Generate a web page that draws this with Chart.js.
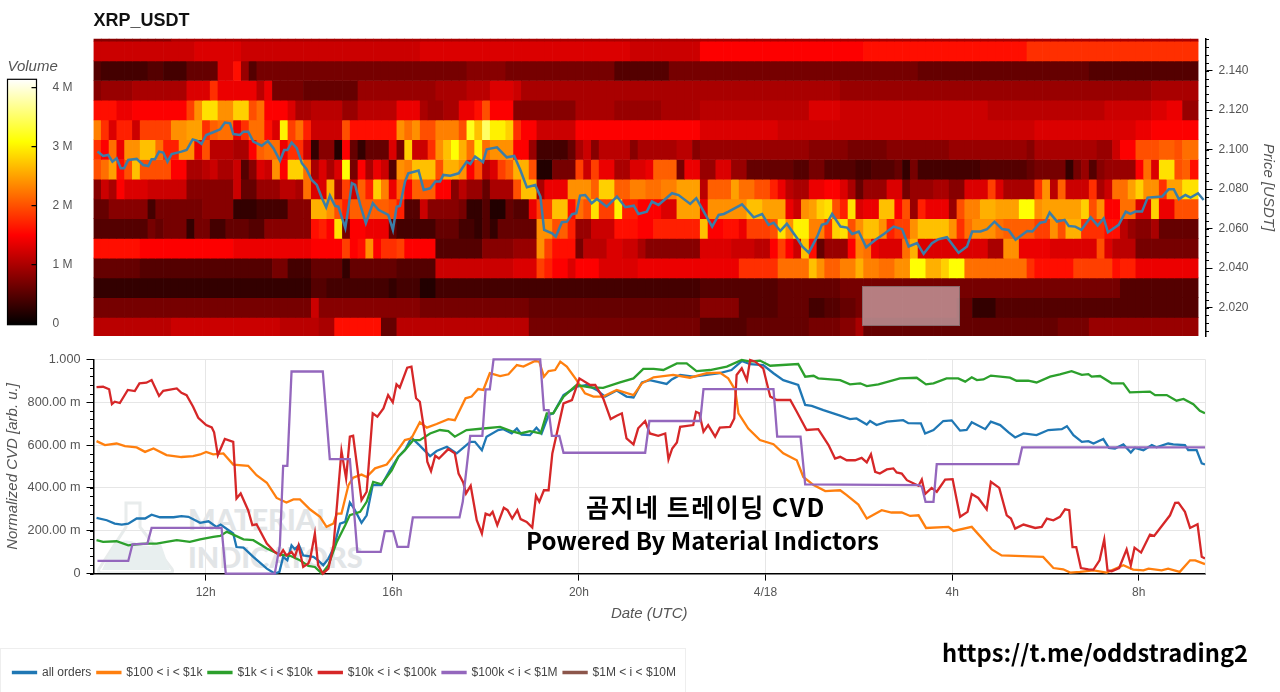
<!DOCTYPE html>
<html>
<head>
<meta charset="utf-8">
<title>XRP_USDT CVD</title>
<script src="https://cdn.jsdelivr.net/npm/chart.js@4/dist/chart.umd.js"></script>
<style>
  html, body { margin:0; padding:0; background:#fff; width:1280px; height:692px; overflow:hidden; }
  canvas { position:absolute; filter:blur(.4px); }
  .abs { position:absolute; white-space:nowrap; }
  #legendBox { left:0; top:648px; width:686px; height:44px; border:1px solid #eee; border-bottom:0; box-sizing:border-box; }
  #mark { left:188px; top:500px; color:#e2e5e7; font:900 29px/38px Lato, sans-serif; }
  #redact { left:862px; top:286px; width:98px; height:40px; box-sizing:border-box; background:rgba(225,210,215,.6); border:1px solid rgba(120,100,100,.7); }
  .note { font-family:"Noto Sans CJK KR", sans-serif; color:#000; font-weight:700; text-shadow:0 0 3px #fff, 0 0 3px #fff; }
</style>
</head>
<body>
<div id="legendBox" class="abs"></div>
<svg class="abs" style="left:96px;top:500px" width="82" height="75" viewBox="0 0 82 75">
  <path d="M30 3h14v24l32 42q2 4-3 4H6q-5 0-3-4l27-42z" fill="none" stroke="#e8ecec" stroke-width="3"/>
  <path d="M17 45q12-8 24-2t24 1l9 26H6z" fill="#e8efef"/>
</svg>
<div id="mark" class="abs">MATERIAL<br>INDICATORS</div>
<canvas id="heat" width="1280" height="345" style="left:0;top:0;width:1280px;height:345px"></canvas>
<canvas id="bar" width="90" height="279" style="left:0;top:58px;width:90px;height:279px"></canvas>
<canvas id="cvd" width="1280" height="347" style="left:0;top:345px;width:1280px;height:347px"></canvas>
<div id="redact" class="abs"></div>
<div class="abs note" style="left:586px;top:489px;font-size:25px;line-height:34px;letter-spacing:1.5px">곰지네 트레이딩 CVD</div>
<div class="abs note" style="left:526px;top:523px;font-size:24px;line-height:34px">Powered By Material Indictors</div>
<div class="abs note" style="left:942px;top:633px;font-size:23.7px;line-height:38px">https://t.me/oddstrading2</div>
<script>
// hours are counted from 4/17 00:00 UTC, so 24 is the 4/18 tick
const X_MIN = 9.595, X_MAX = 33.42;
const timeHours = [12, 16, 20, 24, 28, 32];
const timeLabels = ['12h', '16h', '20h', '4/18', '4h', '8h'];
const cvdTicks = [0, .2, .4, .6, .8, 1];
const cvdLabels = ['0', '200.00 m', '400.00 m', '600.00 m', '800.00 m', '1.000'];
const priceTicks = [2.02, 2.04, 2.06, 2.08, 2.10, 2.12, 2.14];
const volumeTicks = [0, 1, 2, 3, 4];
const volumeLabels = ['0', '1 M', '2 M', '3 M', '4 M'];
const hotStops = [[0, '#000'], [.365, '#f00'], [.746, '#ff0'], [1, '#fff']];
const VOL_MAX = 4.14;

// price bins of the heatmap, top to bottom
const priceBins = [2.16, 2.15, 2.14, 2.13, 2.12, 2.11, 2.10, 2.09, 2.08, 2.07, 2.06, 2.05, 2.04, 2.03, 2.02, 2.01];
const CELL_HOURS = 1 / 6;
// volume per bin in 0.1 M, written as value,count runs over the 142 ten minute columns
const vol216 = [8,10, 10,132];
const vol215 = [12,13, 13,6, 12,23, 13,27, 12,9, 15,18, 15,3, 16,21, 18,22];
const vol214 = [5,1, 4,6, 5,2, 4,3, 6,4, 13,2, 16,1, 9,1, 5,1, 7,21, 7,6, 8,5, 7,14, 5,7, 7,22, 7,10, 6,22, 5,14];
const vol213 = [8,1, 9,4, 10,7, 13,3, 18,1, 14,5, 11,1, 14,1, 7,4, 6,7, 9,8, 9,2, 10,4, 11,3, 13,3, 12,1, 10,41, 9,40, 10,6];
const vol212 = [16,3, 14,2, 15,7, 19,1, 24,1, 29,2, 24,2, 28,2, 20,1, 22,1, 15,3, 13,1, 10,2, 11,4, 9,2, 11,5, 14,3,
  10,1, 9,2, 10,2, 14,2, 16,1, 20,1, 15,3, 8,8, 10,5, 9,6, 10,5, 11,14, 13,4, 12,19, 11,15, 12,6, 13,2, 14,2, 9,2];
const vol211 = [23,1, 18,1, 13,1, 17,2, 12,1, 19,4, 24,2, 25,2, 18,1, 21,1, 22,2, 14,1, 18,1, 22,2, 16,1, 13,1, 30,1, 19,1, 22,1, 17,1, 12,4, 20,1, 16,6, 24,1, 22,1, 24,1,
  20,2, 23,3, 20,1, 32,1, 27,1, 35,1, 30,2, 28,1, 18,1, 15,2, 12,5, 15,16, 13,10, 12,8, 12,25, 13,13, 14,2, 15,6];
const vol210 = [18,1, 15,1, 22,1, 14,1, 24,2, 27,2, 22,1, 17,2, 24,2, 14,1, 20,1, 11,3, 10,2, 15,1, 21,1, 22,2, 14,1, 18,2, 12,1, 3,1, 8,2, 2,1, 15,1, 6,1, 3,1, 6,3, 13,1, 7,1, 28,1, 12,1,
  12,1, 18,1, 24,1, 27,1, 31,1, 26,1, 22,1, 30,1, 22,1, 24,3, 15,2, 9,1, 4,4, 6,1, 10,1, 12,1, 8,1, 11,4, 8,1, 10,5, 11,2, 8,1, 9,14, 8,4,
  8,1, 7,5, 8,8, 9,10, 8,1, 10,8, 9,2, 12,1, 15,2, 20,3, 21,2, 20,1, 22,2];
const vol209 = [20,1, 22,1, 25,1, 16,1, 20,1, 27,1, 20,4, 15,2, 10,2, 11,1, 12,1, 10,2, 12,1, 5,1, 8,1, 13,1, 12,1, 24,1, 15,1, 28,2, 22,1, 10,1, 13,1, 10,1, 13,1, 31,1, 7,1, 15,1, 10,1, 14,1, 12,1, 5,1, 24,1, 23,1, 27,1,
  27,2, 20,1, 26,2, 24,1, 15,1, 20,1, 11,1, 13,1, 19,1, 21,1, 26,2, 20,1, 2,2, 7,3, 19,1, 12,1, 19,1, 14,2, 10,2, 13,2, 14,1, 21,3, 7,1, 14,2, 9,2, 13,2, 9,2, 6,6, 5,2, 7,2, 5,2,
  5,2, 4,2, 5,3, 6,1, 3,1, 7,1, 4,8, 5,6, 6,1, 7,4, 3,1, 7,1, 9,1, 5,1, 8,1, 9,4, 15,1, 22,1, 13,1, 29,2, 20,1, 21,1, 16,1];
const vol208 = [8,1, 12,1, 10,1, 15,1, 13,3, 12,5, 8,6, 12,1, 6,2, 9,3, 11,2, 10,1, 22,1, 13,2, 26,1, 10,1, 19,1, 12,1, 21,1, 17,1, 28,1, 23,1, 14,1, 21,1, 15,1, 21,1,
  21,2, 15,2, 8,1, 11,1, 9,2, 6,1, 10,3, 20,1, 27,2, 10,1, 14,3, 24,3, 21,1, 28,2, 21,2, 23,2, 22,2, 23,2, 25,3, 11,1, 21,3, 25,1, 22,2, 20,2, 17,1, 14,1, 11,1, 10,2, 14,2, 15,2,
  13,1, 10,1, 6,1, 9,3, 13,2, 7,1, 9,3, 10,2, 8,2, 13,3, 19,1, 13,1, 10,4, 18,1, 24,1, 11,1, 21,1, 12,3, 18,1, 10,1, 12,1, 22,2, 25,1, 28,1, 24,2, 18,1, 25,2, 29,2];
const vol207 = [6,2, 8,5, 4,1, 7,6, 8,4, 3,3, 4,4, 8,3, 26,2, 24,1, 20,1, 17,1, 21,5, 20,1, 17,1, 5,2,
  12,1, 8,4, 7,1, 3,2, 5,1, 2,2, 6,1, 5,2, 14,1, 19,2, 27,2, 16,1, 22,1, 20,1, 29,1, 19,2, 30,1, 17,2, 15,3, 13,2, 25,3, 14,1, 24,5, 27,2, 25,3, 14,1, 12,1, 24,1, 25,1, 28,1, 29,1, 20,1,
  17,1, 29,1, 13,1, 14,2, 27,2, 15,1, 20,1, 9,1, 17,1, 14,3, 9,1, 20,1, 23,2, 26,2, 25,3, 31,2, 24,1, 25,5, 28,1, 20,1, 24,1, 15,2, 22,2, 13,2, 28,1, 14,2, 20,3];
const vol206 = [5,7, 7,1, 6,1, 7,3, 3,1, 7,2, 4,2, 6,3, 5,2, 8,6, 16,1, 17,1, 15,1, 29,1, 7,1, 15,2, 14,3, 6,1, 4,3,
  4,2, 6,3, 4,2, 3,1, 5,1, 3,1, 6,5, 24,2, 20,1, 21,1, 17,1, 9,2, 12,3, 16,3, 15,2, 17,6, 27,1, 15,2, 16,2, 14,1, 19,3, 20,1, 29,1, 24,1, 30,2, 23,2, 18,1, 28,1,
  29,1, 20,1, 24,1, 27,2, 24,1, 17,1, 19,2, 24,1, 27,4, 24,1, 18,1, 22,1, 24,3, 22,1, 21,4, 19,2, 24,1, 20,1, 26,2, 18,3, 16,2, 11,1, 9,1, 8,2, 10,1, 6,5];
const vol205 = [16,6, 15,12, 14,7, 14,3, 15,1, 15,3, 19,1, 15,1, 16,1, 24,1, 15,1, 18,2, 19,1, 15,2,
  15,2, 5,6, 8,4, 9,3, 24,1, 19,1, 16,3, 7,1, 11,3, 13,2, 12,2, 10,1, 8,7, 13,4, 12,3, 11,2, 15,1, 19,1, 15,1, 12,1, 27,1, 16,1, 6,1, 9,2,
  9,1, 15,1, 23,1, 22,1, 14,1, 13,3, 22,1, 26,1, 13,9, 10,2, 24,2, 14,4, 13,6, 20,1, 13,1, 11,3, 7,8];
const vol204 = [6,6, 5,17, 7,2, 4,3, 6,4, 3,1, 6,6, 5,3,
  5,2, 12,10, 13,3, 19,1, 17,1, 15,2, 13,1, 15,3, 13,5, 14,13, 18,5, 22,4, 27,1, 24,1, 21,2,
  23,2, 26,1, 23,2, 22,2, 24,2, 31,2, 26,2, 28,1, 31,2, 22,8, 18,1, 16,5, 19,3, 19,2, 16,1, 17,2, 14,8];
const vol203 = [3,28, 5,2, 4,8, 3,1, 4,3, 2,2, 4,34, 5,10, 6,8, 7,36, 5,10];
const vol202 = [7,28, 12,1, 8,13, 7,14, 6,22, 8,5, 5,5, 6,4, 4,2, 5,2, 6,2, 7,13, 6,2, 3,3, 5,26];
const vol201 = [11,10, 12,14, 11,5, 10,2, 16,6, 6,2, 11,3, 11,14, 7,22, 5,6, 6,8, 7,4, 8,2, 10,1, 6,25, 7,4, 9,14];
const volumeRows = [vol216, vol215, vol214, vol213, vol212, vol211, vol210, vol209, vol208, vol207, vol206, vol205, vol204, vol203, vol202, vol201];

const priceHours = [9.68,9.80,9.91,10.00,10.09,10.18,10.25,10.34,10.52,10.66,10.77,10.84,10.91,11.00,11.09,11.18,11.27,11.48,11.59,11.72,11.81,11.91,12.01,12.16,12.31,12.41,12.52,12.59,12.73,12.81,12.91,13.02,13.20,13.33,13.45,13.59,13.68,13.75,13.84,13.95,14.06,14.16,14.27,14.38,14.49,14.58,14.66,14.77,14.84,14.99,15.06,15.13,15.20,15.31,15.43,15.58,15.70,15.91,16.01,16.09,16.16,16.27,16.34,16.56,
  16.67,16.81,16.92,17.02,17.09,17.24,17.42,17.59,17.67,17.77,17.94,18.02,18.24,18.45,18.61,18.74,18.88,19.06,19.17,19.25,19.42,19.50,19.63,19.74,19.85,19.94,20.02,20.13,20.27,20.38,20.59,20.81,20.99,21.17,21.27,21.45,21.56,21.70,21.99,22.13,22.38,22.51,22.67,22.85,22.99,23.10,23.20,23.49,23.74,23.92,24.06,24.17,24.31,24.45,24.67,24.78,24.92,25.10,25.20,25.31,25.42,25.60,
  25.74,25.85,25.99,26.15,26.35,26.53,26.74,26.92,27.06,27.24,27.38,27.56,27.70,27.88,28.13,28.31,28.42,28.60,28.74,28.90,29.06,29.20,29.35,29.60,29.71,29.88,29.99,30.08,30.24,30.40,30.49,30.63,30.76,30.96,31.11,31.24,31.33,31.56,31.71,31.81,31.92,32.06,32.18,32.49,32.63,32.74,32.85,32.99,33.10,33.26,33.38];
const priceValues = [2.0990,2.0968,2.0973,2.0939,2.0956,2.0906,2.0906,2.0948,2.0953,2.0922,2.0917,2.0951,2.0951,2.0990,2.0985,2.0939,2.0978,2.0990,2.0998,2.1052,2.1046,2.1029,2.1074,2.1088,2.1103,2.1137,2.1133,2.1079,2.1074,2.1091,2.1091,2.1041,2.1020,2.1044,2.1007,2.0944,2.0998,2.0998,2.1036,2.1007,2.0931,2.0901,2.0846,2.0821,2.0754,2.0708,2.0767,2.0715,2.0711,2.0602,2.0711,2.0830,2.0821,2.0720,2.0627,2.0728,2.0695,2.0669,2.0593,2.0711,2.0715,2.0838,2.0880,2.0894,
  2.0796,2.0804,2.0838,2.0838,2.0872,2.0868,2.0880,2.0939,2.0927,2.0965,2.0936,2.1002,2.1012,2.0961,2.0968,2.0897,2.0809,2.0821,2.0762,2.0593,2.0576,2.0559,2.0632,2.0635,2.0673,2.0678,2.0767,2.0770,2.0728,2.0750,2.0711,2.0762,2.0708,2.0716,2.0674,2.0686,2.0737,2.0720,2.0779,2.0770,2.0725,2.0754,2.0686,2.0610,2.0669,2.0674,2.0686,2.0723,2.0657,2.0674,2.0619,2.0630,2.0588,2.0624,2.0551,2.0509,2.0478,2.0559,2.0619,2.0627,2.0674,2.0610,
  2.0605,2.0573,2.0585,2.0505,2.0543,2.0573,2.0610,2.0597,2.0509,2.0526,2.0472,2.0526,2.0546,2.0556,2.0478,2.0509,2.0585,2.0585,2.0597,2.0635,2.0598,2.0593,2.0543,2.0588,2.0585,2.0630,2.0635,2.0681,2.0635,2.0644,2.0613,2.0610,2.0593,2.0657,2.0615,2.0652,2.0581,2.0619,2.0686,2.0674,2.0686,2.0686,2.0757,2.0762,2.0799,2.0799,2.0749,2.0770,2.0757,2.0779,2.0745];

const blueHours = [9.66,9.88,10.05,10.20,10.34,10.52,10.70,10.84,11.02,11.31,11.48,11.63,11.88,12.06,12.23,12.32,12.59,12.66,12.81,13.02,13.31,13.48,13.58,13.66,13.75,13.84,13.91,14.00,14.09,14.31,14.41,14.52,14.63,14.74,14.88,14.99,15.09,15.18,15.34,15.45,15.58,15.77,15.95,16.13,16.27,16.41,16.59,
  16.81,16.95,17.17,17.38,17.67,17.77,17.92,18.02,18.27,18.38,18.56,18.67,18.77,18.95,19.09,19.20,19.35,19.45,19.67,19.95,20.17,20.38,20.56,20.81,21.02,21.17,21.35,21.52,21.88,21.99,22.17,22.45,22.74,23.02,23.27,23.49,23.67,23.95,24.17,24.38,24.70,24.85,24.99,25.24,25.60,
  25.81,25.95,26.17,26.24,26.38,26.60,26.95,27.06,27.33,27.42,27.60,27.81,27.99,28.17,28.31,28.42,28.71,28.83,29.03,29.21,29.35,29.53,29.81,30.06,30.35,30.46,30.60,30.78,30.92,31.03,31.24,31.36,31.49,31.67,31.83,31.92,32.10,32.28,32.38,32.63,32.74,32.99,33.06,33.24,33.35,33.42];
const blueValues = [.260,.249,.233,.229,.233,.257,.257,.275,.263,.263,.268,.265,.237,.244,.218,.229,.187,.124,.121,.078,.023,0,.008,.078,.062,.132,.114,.132,.085,.078,.062,.039,.070,.117,.233,.241,.332,.303,.237,.272,.413,.413,.483,.545,.576,.634,.597,
  .548,.572,.592,.561,.615,.615,.576,.639,.670,.674,.654,.677,.649,.646,.681,.654,.740,.748,.833,.872,.880,.857,.826,.854,.826,.822,.892,.903,.885,.906,.927,.919,.927,.935,.950,.992,.977,.973,.935,.903,.880,.787,.783,.763,.737,
  .721,.724,.696,.712,.693,.709,.716,.702,.701,.654,.670,.712,.715,.667,.670,.706,.674,.709,.693,.659,.635,.654,.646,.670,.674,.688,.646,.615,.618,.607,.628,.587,.584,.603,.565,.587,.576,.600,.589,.607,.603,.600,.576,.576,.514,.509];

const orangeHours = [9.66,9.84,10.09,10.27,10.52,10.70,10.88,11.16,11.48,11.73,11.88,12.01,12.16,12.38,12.59,12.91,13.09,13.31,13.52,13.73,13.88,14.02,14.24,14.45,14.59,14.74,14.81,14.91,15.06,15.16,15.34,15.45,15.63,15.88,16.09,16.27,16.41,16.59,
  16.74,16.95,17.20,17.34,17.57,17.70,17.84,17.95,18.09,18.31,18.49,18.67,18.81,19.06,19.15,19.25,19.35,19.49,19.60,19.74,19.95,20.13,20.31,20.52,20.81,21.17,21.35,21.60,22.02,22.38,22.74,23.02,23.20,23.35,23.42,23.63,23.88,24.17,24.38,24.67,24.81,25.03,25.28,25.60,
  25.74,25.99,26.17,26.49,26.70,26.92,27.10,27.28,27.44,27.92,28.03,28.42,28.85,29.06,29.95,30.17,30.38,30.53,30.74,31.03,31.31,31.67,31.88,32.10,32.21,32.49,32.63,32.88,33.10,33.21,33.42];
const orangeValues = [.618,.600,.607,.595,.589,.568,.584,.553,.544,.548,.556,.568,.556,.561,.509,.503,.459,.424,.353,.332,.346,.346,.299,.265,.218,.234,.280,.280,.413,.448,.462,.451,.491,.509,.568,.623,.631,.706,
  .681,.698,.721,.716,.818,.826,.861,.857,.935,.922,.930,.973,.966,.992,.989,.919,.945,.950,.989,.966,.903,.841,.826,.826,.857,.833,.888,.916,.927,.914,.935,.938,.911,.857,.748,.677,.623,.604,.561,.529,.451,.413,.385,.389,
  .366,.322,.257,.296,.285,.285,.269,.272,.213,.218,.199,.218,.113,.085,.078,.026,.020,.005,.008,.015,.005,.039,.019,.015,.023,.015,.023,.008,.062,.062,.044];

const greenHours = [9.66,9.80,10.09,10.34,10.52,10.73,10.95,11.16,11.38,11.66,11.88,12.16,12.31,12.45,12.59,12.81,13.02,13.31,13.59,13.81,14.02,14.20,14.34,14.49,14.63,14.81,14.99,15.09,15.31,15.45,15.59,15.77,15.99,16.13,16.27,16.45,16.59,
  16.81,17.02,17.20,17.34,17.59,17.95,18.31,18.59,18.74,18.95,19.18,19.31,19.45,19.67,19.95,20.24,20.52,20.88,21.17,21.38,21.60,21.81,22.10,22.31,22.52,22.81,23.17,23.49,23.67,23.88,24.10,24.70,24.85,25.03,25.13,25.60,
  25.81,26.03,26.17,26.42,26.88,27.24,27.44,27.60,27.88,28.13,28.28,28.42,28.53,28.67,28.83,29.24,29.38,29.63,29.81,30.10,30.31,30.56,30.78,30.92,30.99,31.17,31.42,31.67,31.81,32.24,32.35,32.60,32.81,32.96,33.17,33.31,33.42];
const greenValues = [.156,.148,.151,.132,.137,.140,.140,.148,.156,.148,.160,.171,.176,.195,.182,.160,.156,.117,.089,.083,.062,.036,.031,0,.039,.148,.226,.273,.288,.335,.428,.417,.483,.545,.576,.623,.623,
  .654,.670,.665,.639,.670,.677,.685,.662,.654,.665,.654,.748,.748,.826,.880,.869,.867,.892,.911,.955,.955,.950,.981,.981,.945,.950,.966,.997,.989,.994,.970,.978,.919,.923,.911,.903,
  .883,.888,.875,.883,.911,.914,.883,.888,.911,.911,.896,.916,.903,.906,.924,.914,.900,.900,.892,.919,.930,.945,.927,.931,.919,.922,.888,.888,.846,.849,.833,.833,.807,.815,.790,.760,.748];

const redHours = [9.66,9.80,9.93,9.99,10.05,10.16,10.33,10.48,10.58,10.73,10.84,11.00,11.09,11.38,11.48,11.59,11.73,11.84,12.01,12.13,12.18,12.26,12.41,12.59,12.66,12.75,12.91,13.00,13.09,13.31,13.48,13.59,13.66,13.73,13.84,13.91,13.99,14.09,14.20,14.24,14.34,14.41,14.51,14.63,14.74,14.82,14.91,15.01,15.09,15.16,15.34,15.45,15.58,15.68,15.81,15.91,16.01,16.09,16.16,16.32,16.41,16.51,16.59,
  16.70,16.75,16.83,16.92,17.00,17.20,17.34,17.42,17.52,17.58,17.68,17.81,17.92,18.00,18.09,18.15,18.25,18.39,18.47,18.57,18.68,18.75,18.88,19.00,19.08,19.15,19.25,19.35,19.43,19.67,19.85,20.01,20.24,20.35,20.52,20.68,20.81,20.92,21.02,21.17,21.27,21.42,21.52,21.70,21.85,21.92,22.00,22.10,22.17,22.45,22.51,22.58,22.67,22.77,22.92,23.02,23.24,23.33,23.38,23.49,23.60,23.67,23.78,23.95,24.10,24.24,24.53,24.67,24.88,25.13,25.35,25.49,
  25.60,25.74,25.92,26.06,26.17,26.26,26.35,26.45,26.60,26.74,26.81,26.92,27.03,27.28,27.35,27.42,27.56,27.67,27.85,28.01,28.17,28.33,28.42,28.56,28.74,28.83,29.01,29.17,29.26,29.35,29.53,29.78,29.92,30.03,30.17,30.31,30.42,30.51,30.58,30.66,30.76,30.92,31.03,31.16,31.26,31.33,31.42,31.58,31.74,31.83,31.91,32.05,32.24,32.33,32.67,32.78,32.85,32.99,33.10,33.26,33.35,33.42];
const redValues = [.870,.872,.860,.791,.802,.796,.857,.852,.888,.891,.903,.829,.853,.864,.844,.833,.779,.727,.693,.682,.659,.553,.628,.615,.350,.374,.296,.226,.230,.140,.101,.085,.109,.085,.101,.078,.132,.031,.047,.070,.187,.039,0,.023,.132,.335,.572,.444,.639,.643,.343,.382,.748,.732,.771,.833,.799,.883,.868,.961,.966,.818,.802,
  .646,.522,.478,.550,.537,.581,.561,.467,.425,.374,.410,.249,.187,.280,.272,.288,.226,.307,.296,.257,.296,.254,.241,.215,.363,.335,.389,.389,.561,.794,.810,.911,.880,.880,.818,.721,.737,.748,.631,.603,.678,.712,.654,.643,.654,.533,.584,.612,.685,.693,.755,.748,.662,.693,.639,.681,.685,.724,.927,.958,.903,.997,.989,.958,.826,.810,.810,.755,.670,.674,.600,.537,
  .545,.529,.529,.540,.519,.557,.475,.467,.486,.491,.472,.467,.436,.410,.439,.371,.400,.382,.439,.441,.265,.288,.371,.353,.300,.428,.400,.272,.257,.210,.229,.213,.218,.257,.249,.265,.300,.296,.124,.124,.026,.020,.019,.062,.159,.015,.011,.026,.113,.039,.121,.098,.182,.176,.272,.330,.331,.288,.213,.230,.078,.070];

const purpleHours = [9.68,10.34,10.43,10.75,10.84,12.34,12.43,13.48,13.59,13.66,13.75,13.84,14.51,14.66,15.09,15.25,15.75,15.84,16.02,16.11,16.34,16.44,17.44,17.51,17.67,17.93,18.00,18.09,18.17,19.17,19.25,19.35,19.42,19.58,19.67,21.42,21.51,22.60,22.67,24.17,24.25,24.75,24.85,27.28,27.35,27.43,27.60,27.67,29.42,29.50,33.42];
const purpleValues = [.059,.059,.137,.140,.213,.213,0,0,.132,.503,.503,.943,.943,.534,.534,.101,.101,.198,.198,.125,.125,.262,.262,.335,.643,.643,.860,.860,1,1,.763,.763,.643,.643,.564,.564,.712,.712,.861,.861,.639,.639,.416,.413,.405,.335,.335,.511,.511,.589,.589];

const brownHours = [];
const brownValues = [];

const legendNames = ['all orders', '$100 < i < $1k', '$1k < i < $10k', '$10k < i < $100k', '$100k < i < $1M', '$1M < i < $10M'];
const lineColors = ['#1f77b4', '#ff7f0e', '#2ca02c', '#d62728', '#9467bd', '#8c564b'];

Chart.defaults.font.family = '"Liberation Sans", Arial, sans-serif';
Chart.defaults.font.size = 12;
Chart.defaults.color = '#555';
Chart.defaults.animation = false;
Chart.defaults.responsive = false;

const pairs = (xs, ys) => xs.map((x, i) => ({ x, y: ys[i] }));

function unrun(runs){
  const out = [];
  for (let i = 0; i < runs.length; i += 2) for (let n = 0; n < runs[i+1]; n++) out.push(runs[i]);
  return out;
}

function hotColor(m){
  const t = Math.min(1, m / VOL_MAX);
  const part = (a, b) => Math.round(255 * Math.max(0, Math.min(1, (t - a) / (b - a))));
  return `rgb(${part(hotStops[0][0], hotStops[1][0])},${part(hotStops[1][0], hotStops[2][0])},${part(hotStops[2][0], hotStops[3][0])})`;
}

// small outward ticks between the labelled ones, bokeh style
const minorTicks = {
  id: 'minorTicks',
  afterDraw(chart, args, opts){
    if (!opts.axis) return;
    const s = chart.scales[opts.axis], c = chart.ctx;
    c.save(); c.strokeStyle = '#000'; c.lineWidth = 1; c.beginPath();
    for (let v = opts.from; v <= s.max + 1e-9; v += opts.step){
      const y = Math.round(s.getPixelForValue(v)) + .5;
      const x = opts.side === 'left' ? s.right : s.left;
      c.moveTo(x, y); c.lineTo(x + (opts.side === 'left' ? -opts.length : opts.length), y);
    }
    c.stroke(); c.restore();
  }
};

function fixedTicks(values){
  return scale => { scale.ticks = values.map(value => ({ value })); };
}

// fixed axis width, and no room kept for label overhang so the plot edges stay put
function fitWidth(w){
  return s => { s.width = w; s.paddingTop = 0; s.paddingBottom = 0; };
}

// heatmap: every cell is a floating bar, one dataset per price bin
const heatSets = priceBins.map((p, r) => {
  const vals = unrun(volumeRows[r]);
  return {
    type: 'bar', order: 2, grouped: false, barPercentage: 1, categoryPercentage: 1, borderWidth: 0,
    data: vals.map((v, i) => ({ x: X_MIN + (i + .5) * CELL_HOURS, y: [p - .005, p + .005] })),
    backgroundColor: vals.map(v => hotColor(v / 10))
  };
});

new Chart(document.getElementById('heat'), {
  type: 'bar',
  data: { datasets: [...heatSets, {
    type: 'line', order: 1, data: pairs(priceHours, priceValues),
    borderColor: '#3b7ea8', borderWidth: 2.5, pointRadius: 0, tension: 0, clip: false
  }] },
  options: {
    layout: { padding: { left: 93.5, top: .5, bottom: 9 } },
    plugins: {
      legend: { display: false }, tooltip: { enabled: false },
      title: { display: true, text: 'XRP_USDT', align: 'start', fullSize: false, color: '#111',
        font: { size: 18, weight: 'bold' }, padding: { top: 10, bottom: 6.6 } },
      minorTicks: { axis: 'y', from: 2.008, step: .004, length: 3.5, side: 'right' }
    },
    scales: {
      x: { type: 'linear', min: X_MIN, max: X_MAX, offset: false, display: false },
      y: {
        type: 'linear', position: 'right', min: 2.00557, max: 2.1562,
        afterBuildTicks: fixedTicks(priceTicks),
        afterFit: fitWidth(74.5),
        border: { color: '#000', width: 1.5 },
        grid: { drawOnChartArea: false, color: '#000', tickLength: 7 },
        ticks: { callback: v => v.toFixed(3), padding: 6, color: '#555' },
        title: { display: true, text: 'Price [USDT]', color: '#555', font: { size: 15, style: 'italic' }, padding: { top: 3, bottom: 0 } }
      }
    }
  },
  plugins: [minorTicks]
});

// colour bar for the volume scale
new Chart(document.getElementById('bar'), {
  type: 'bar',
  data: { labels: ['Volume'], datasets: [{
    data: [[-.02, VOL_MAX]], barPercentage: 1, categoryPercentage: 1, borderWidth: 0,
    backgroundColor(ctx){
      const a = ctx.chart.chartArea;
      if (!a) return '#000';
      const g = ctx.chart.ctx.createLinearGradient(0, a.bottom, 0, a.top);
      hotStops.forEach(s => g.addColorStop(s[0], s[1]));
      return g;
    }
  }] },
  options: {
    layout: { padding: { left: 7.5, bottom: 12.3 } },
    plugins: {
      legend: { display: false }, tooltip: { enabled: false },
      title: { display: true, text: 'Volume', align: 'start', color: '#555', font: { size: 15, style: 'italic', weight: 'normal' }, padding: { top: 0, bottom: 3.3 } }
    },
    scales: {
      x: { display: false },
      y: {
        position: 'right', min: -.02, max: VOL_MAX,
        afterBuildTicks: fixedTicks(volumeTicks),
        afterFit: fitWidth(53.5),
        border: { display: false },
        grid: { display: false },
        ticks: { padding: 8, callback: (v, i) => volumeLabels[i], color: '#555' }
      }
    }
  },
  plugins: [{
    id: 'barFrame',
    afterDraw(chart){
      const a = chart.chartArea, c = chart.ctx, s = chart.scales.y;
      c.save(); c.strokeStyle = '#000'; c.lineWidth = 1.2;
      c.strokeRect(a.left, a.top, a.right - a.left, a.bottom - a.top);
      c.beginPath();
      volumeTicks.forEach(v => { const y = s.getPixelForValue(v); c.moveTo(a.right - 5, y); c.lineTo(a.right, y); });
      c.stroke(); c.restore();
    }
  }]
});

// normalized CVD lines, purple is drawn over the others as in the source
const cvdLines = [[blueHours, blueValues], [orangeHours, orangeValues], [greenHours, greenValues], [redHours, redValues], [purpleHours, purpleValues], [brownHours, brownValues]];
new Chart(document.getElementById('cvd'), {
  type: 'line',
  data: { datasets: cvdLines.map((l, i) => ({
    label: legendNames[i], data: pairs(l[0], l[1]), order: 6 - i,
    borderColor: lineColors[i], backgroundColor: lineColors[i], borderWidth: 2.3, pointRadius: 0, tension: 0, clip: 3
  })) },
  options: {
    layout: { padding: { top: 14.3, right: 75, bottom: 3.5 } },
    plugins: {
      tooltip: { enabled: false },
      legend: {
        position: 'bottom', align: 'start',
        labels: { boxWidth: 23, boxHeight: 1, padding: 6, color: '#444', font: { size: 12 },
          sort: (a, b) => a.datasetIndex - b.datasetIndex }
      },
      minorTicks: { axis: 'y', from: 0, step: .04, length: 3.5, side: 'left' }
    },
    scales: {
      x: {
        type: 'linear', min: X_MIN, max: X_MAX,
        afterBuildTicks: fixedTicks(timeHours),
        afterFit: s => { s.height = 86.9; },
        border: { color: '#000', width: 1.5 },
        grid: { color: '#e6e6e6', tickColor: '#000', tickLength: 7 },
        ticks: { callback: (v, i) => timeLabels[i], padding: 5, maxRotation: 0, color: '#555' },
        title: { display: true, text: 'Date (UTC)', color: '#555', font: { size: 15, style: 'italic' }, padding: { top: 0, bottom: 38 } }
      },
      y: {
        min: 0, max: 1,
        afterBuildTicks: fixedTicks(cvdTicks),
        afterFit: s => { s.width = 93.5; },
        border: { color: '#000', width: 1.5 },
        grid: { color: '#e6e6e6', tickColor: '#000', tickLength: 7 },
        ticks: { callback: (v, i) => cvdLabels[i], padding: 6, color: '#555', font: { size: 12.7 } },
        title: { display: true, text: 'Normalized CVD [arb. u.]', color: '#555', font: { size: 15, style: 'italic' }, padding: { top: 4, bottom: 0 } }
      }
    }
  },
  plugins: [minorTicks, {
    id: 'legendInset',
    afterLayout(chart){ chart.legend.left = 7; }
  }, {
    id: 'rightEdge',
    afterDraw(chart){
      const a = chart.chartArea, c = chart.ctx;
      c.save(); c.strokeStyle = '#e6e6e6'; c.beginPath(); c.moveTo(a.right + .5, a.top); c.lineTo(a.right + .5, a.bottom); c.stroke(); c.restore();
    }
  }]
});
</script>
</body>
</html>
